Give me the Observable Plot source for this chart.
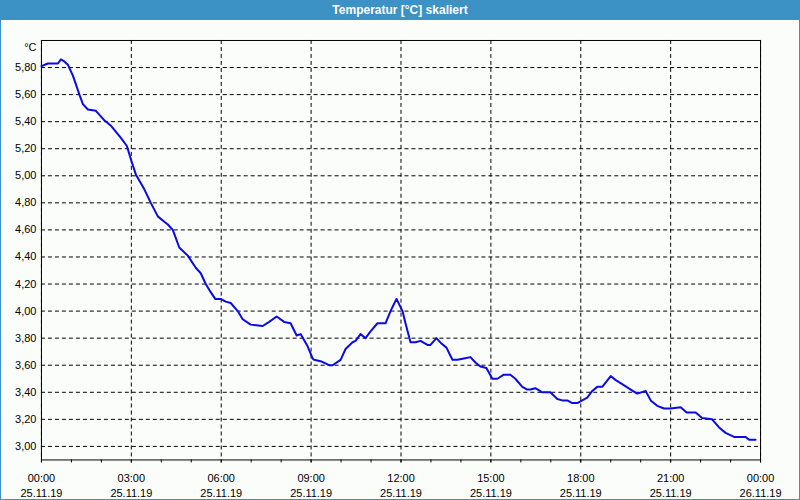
<!DOCTYPE html>
<html>
<head>
<meta charset="utf-8">
<script src="https://cdn.jsdelivr.net/npm/d3@7"></script>
<script src="https://cdn.jsdelivr.net/npm/@observablehq/plot@0.6"></script>
<style>
  html, body { margin: 0; padding: 0; }
  body { width: 800px; height: 500px; overflow: hidden; }
  #win {
    position: relative; width: 798px; height: 499px;
    background: #fbfdfb;
    border-left: 1px solid #3c91c5; border-right: 1px solid #3c91c5; border-bottom: 1px solid #3c91c5;
    font-family: "Liberation Sans", Arial, sans-serif;
  }
  #title {
    height: 20px; line-height: 20px; background: #3c91c5; color: #fff;
    font-weight: bold; font-size: 12px; text-align: center;
    margin: 0 -1px;
  }
  #chart { position: absolute; left: -1px; top: 20px; }
</style>
</head>
<body>
<div id="win">
  <div id="title">Temperatur [°C] skaliert</div>
  <div id="chart"></div>
</div>
<script>
const titleText = "Temperatur [°C] skaliert";
const unitLabel = "°C";
const times = ["00:00","00:13","00:26","00:33","00:39","00:44","00:53","01:03","01:16","01:23","01:33","01:49","02:06","02:19","02:39","02:51","03:01","03:09","03:26","03:39","03:53","04:06","04:13","04:23","04:36","04:53","05:09","05:19","05:29","05:39","05:48","05:59","06:09","06:19","06:33","06:43","06:59","07:23","07:36","07:51","08:06","08:19","08:31","08:39","08:53","09:03","09:06","09:19","09:36","09:43","09:59","10:09","10:23","10:29","10:39","10:49","10:59","11:13","11:29","11:39","11:51","12:03","12:09","12:19","12:29","12:39","12:53","12:59","13:11","13:21","13:31","13:43","13:53","14:06","14:19","14:29","14:39","14:51","15:03","15:13","15:26","15:39","15:49","16:03","16:13","16:19","16:29","16:43","16:59","17:13","17:23","17:33","17:43","17:53","18:03","18:13","18:23","18:33","18:43","19:00","19:10","19:23","19:40","19:53","20:10","20:20","20:33","20:47","21:00","21:20","21:32","21:50","22:03","22:23","22:37","22:50","23:07","23:30","23:37","23:50"];
const values = [5.81,5.83,5.83,5.83,5.86,5.85,5.82,5.74,5.60,5.53,5.49,5.48,5.41,5.37,5.28,5.22,5.10,5.01,4.90,4.80,4.70,4.66,4.64,4.60,4.47,4.41,4.32,4.28,4.20,4.14,4.09,4.09,4.07,4.06,4.00,3.94,3.90,3.89,3.92,3.96,3.92,3.91,3.82,3.83,3.74,3.65,3.64,3.63,3.60,3.60,3.64,3.72,3.77,3.78,3.83,3.80,3.85,3.91,3.91,4.00,4.09,4.00,3.91,3.77,3.77,3.78,3.75,3.75,3.80,3.76,3.73,3.64,3.64,3.65,3.66,3.62,3.59,3.58,3.50,3.50,3.53,3.53,3.50,3.44,3.42,3.42,3.43,3.40,3.40,3.35,3.34,3.34,3.32,3.32,3.34,3.36,3.41,3.44,3.44,3.52,3.49,3.46,3.42,3.39,3.41,3.34,3.30,3.28,3.28,3.29,3.25,3.25,3.21,3.20,3.14,3.10,3.07,3.07,3.05,3.05];
const yTicks = [3.0,3.2,3.4,3.6,3.8,4.0,4.2,4.4,4.6,4.8,5.0,5.2,5.4,5.6,5.8];
const xMajorHours = [0,3,6,9,12,15,18,21,24];
const xMinorHours = d3.range(0, 25, 1);
const yDomain = [2.9, 6.0];

const day = (h, m = 0) => new Date(2019, 10, 25, h, m);
const data = times.map((t, i) => ({date: day(+t.slice(0, 2), +t.slice(3)), value: values[i]}));
const majorTicks = xMajorHours.map(h => day(h));
const minorTicks = xMinorHours.map(h => day(h));
const fmtT = d3.timeFormat("%H:%M"), fmtD = d3.timeFormat("%d.%m.%y");
const yFmt = v => v.toFixed(2).replace(".", ",");

const plot = Plot.plot({
  width: 800, height: 480,
  marginLeft: 41, marginRight: 39, marginTop: 20, marginBottom: 40,
  style: {background: "transparent", fontFamily: "'Liberation Sans', Arial, sans-serif", fontSize: "11px", color: "#000"},
  x: {type: "time", domain: [day(0), day(24)]},
  y: {domain: yDomain},
  marks: [
    Plot.gridY(yTicks, {stroke: "#000", strokeOpacity: 1, strokeDasharray: "4,3"}),
    Plot.gridX(majorTicks, {stroke: "#000", strokeOpacity: 1, strokeDasharray: "4,3"}),
    Plot.frame({stroke: "#000"}),
    Plot.axisY(yTicks, {tickSize: 0, tickPadding: 5, tickFormat: yFmt, label: null, fill: "#000"}),
    Plot.axisX(minorTicks, {tickSize: 3, tickFormat: () => "", label: null, stroke: "#000"}),
    Plot.axisX(majorTicks, {tickSize: 3, tickPadding: 8, label: null, lineHeight: 1.38, fill: "#000",
      tickFormat: d => fmtT(d) + "\n" + fmtD(d)}),
    Plot.text([unitLabel], {frameAnchor: "top-left", text: d => d, textAnchor: "end", dx: -5, dy: 3, fill: "#000"}),
    Plot.line(data, {x: "date", y: "value", stroke: "#0a0ae6", strokeWidth: 2})
  ]
});
document.getElementById("chart").appendChild(plot);
</script>
</body>
</html>
